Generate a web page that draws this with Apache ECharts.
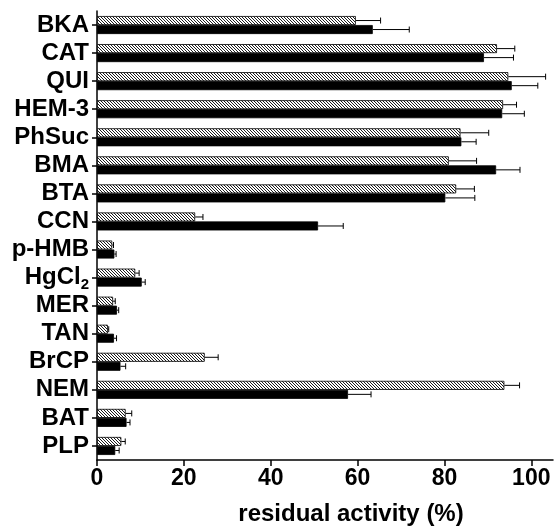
<!DOCTYPE html>
<html>
<head>
<meta charset="utf-8">
<script src="https://cdn.jsdelivr.net/npm/echarts@6/dist/echarts.min.js"></script>
<style>
html,body{margin:0;padding:0;background:#fff;}
#c{width:557px;height:531px;}
</style>
</head>
<body>
<div id="c"></div>
<script>
var categories = ['BKA','CAT','QUI','HEM-3','PhSuc','BMA','BTA','CCN','p-HMB','HgCl2','MER','TAN','BrCP','NEM','BAT','PLP'];
var hatchedValues = [59.6, 92.1, 94.7, 93.5, 83.7, 81.0, 82.7, 22.6, 3.5, 8.8, 3.7, 2.5, 24.8, 93.8, 6.6, 5.6];
var hatchedErrors = [5.7, 4.1, 8.6, 3.1, 6.5, 6.4, 4.2, 1.8, 0.3, 0.9, 0.5, 0.2, 3.1, 3.5, 1.4, 0.9];
var blackValues = [63.5, 89.1, 95.5, 93.3, 83.9, 91.9, 80.2, 50.9, 4.0, 10.3, 4.6, 3.9, 5.4, 57.8, 6.8, 4.2];
var blackErrors = [8.4, 6.8, 6.0, 5.1, 3.4, 5.5, 6.8, 5.8, 0.4, 0.8, 0.4, 0.6, 1.2, 5.3, 0.8, 0.9];
var xTicks = [0, 20, 40, 60, 80, 100];

var pc = document.createElement('canvas');
pc.width = 3; pc.height = 3;
var g = pc.getContext('2d');
g.fillStyle = '#fff'; g.fillRect(0,0,3,3);
g.strokeStyle = '#000'; g.lineWidth = 0.9;
g.beginPath();
g.moveTo(-1,-1); g.lineTo(4,4);
g.moveTo(-1,2); g.lineTo(1,4);
g.moveTo(2,-1); g.lineTo(4,1);
g.stroke();

var BW = 9;
function errSeries(vals, errs, offset) {
  return {
    type: 'custom',
    z: 1,
    data: vals.map(function (v, i) { return [v, i, errs[i]]; }),
    renderItem: function (params, api) {
      var v = api.value(0), i = api.value(1), e = api.value(2);
      var p0 = api.coord([v, i]);
      var p1 = api.coord([v + e, i]);
      var y = p0[1] + offset;
      return {
        type: 'group',
        children: [
          {type: 'line', shape: {x1: p0[0], y1: y, x2: p1[0], y2: y}, style: {stroke: '#000', lineWidth: 1}},
          {type: 'line', shape: {x1: p1[0], y1: y - 3, x2: p1[0], y2: y + 3}, style: {stroke: '#000', lineWidth: 1}}
        ]
      };
    }
  };
}

var chart = echarts.init(document.getElementById('c'), null, {renderer: 'canvas'});
chart.setOption({
  animation: false,
  grid: {left: 97, right: 4, top: 11, bottom: 66, containLabel: false},
  xAxis: {
    type: 'value', min: 0, max: 105, interval: 20,
    axisLine: {show: true, lineStyle: {color: '#000', width: 1.5}},
    axisTick: {show: true, length: 6, lineStyle: {color: '#000', width: 1.5}},
    splitLine: {show: false},
    axisLabel: {
      color: '#000', fontFamily: 'Liberation Sans', fontWeight: 'bold', fontSize: 23, margin: 7,
      showMaxLabel: false,
      formatter: function (v) { return xTicks.indexOf(v) >= 0 ? String(v) : ''; }
    },
    name: 'residual activity (%)',
    nameLocation: 'middle', nameGap: 42,
    nameTextStyle: {color: '#000', fontFamily: 'Liberation Sans', fontWeight: 'bold', fontSize: 24, padding: [0, 0, 0, 52]}
  },
  yAxis: {
    type: 'category', data: categories, inverse: true,
    axisLine: {show: true, lineStyle: {color: '#000', width: 1.5}},
    axisTick: {show: true, alignWithLabel: true, interval: 0, length: 5, lineStyle: {color: '#000', width: 1.5}},
    axisLabel: {
      interval: 0,
      color: '#000', fontFamily: 'Liberation Sans', fontWeight: 'bold', fontSize: 24, margin: 8,
      formatter: function (v) { return v === 'HgCl2' ? 'HgCl{sub|2}' : v; },
      rich: {sub: {fontFamily: 'Liberation Sans', fontWeight: 'bold', fontSize: 15, color: '#000', padding: [14, 0, 0, 0]}}
    }
  },
  series: [
    {type: 'bar', data: hatchedValues, barWidth: BW, barGap: '0%',
     itemStyle: {color: {image: pc, repeat: 'repeat'}, borderColor: '#000', borderWidth: 0.8}},
    {type: 'bar', data: blackValues, barWidth: BW, barGap: '0%',
     itemStyle: {color: '#000', borderColor: '#000', borderWidth: 0.8}},
    errSeries(hatchedValues, hatchedErrors, -BW / 2),
    errSeries(blackValues, blackErrors, BW / 2)
  ]
});
</script>
</body>
</html>
